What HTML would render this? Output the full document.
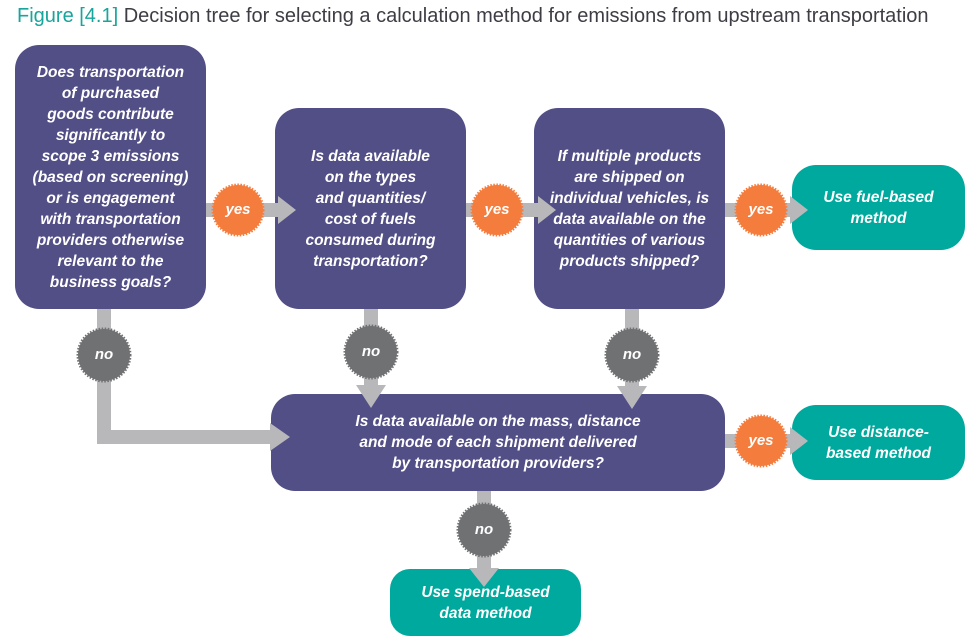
<!DOCTYPE html>
<html><head><style>
body{margin:0;width:978px;height:641px;background:#fff;position:relative;overflow:hidden;font-family:"Liberation Sans",sans-serif}
.t{position:absolute;left:17px;top:5px;font-size:20px;color:#3d3d45;white-space:nowrap}
.t span{color:#17a59c}
.b{position:absolute;background:#524e86;border-radius:24px;color:#fff;font-style:italic;font-weight:bold;font-size:15.5px;line-height:21px;text-align:center;display:flex;align-items:center;justify-content:center;box-sizing:border-box}
.g{background:#00a99d}
svg{position:absolute;left:0;top:0}
.l{position:absolute;color:#fff;font-style:italic;font-weight:bold;font-size:15px;text-align:center;width:60px}
</style></head><body>
<div class="t"><span>Figure [4.1]</span> Decision tree for selecting a calculation method for emissions from upstream transportation</div>
<div class="b" style="left:15px;top:45px;width:191px;height:264px">Does transportation<br>of purchased<br>goods contribute<br>significantly to<br>scope 3 emissions<br>(based on screening)<br>or is engagement<br>with transportation<br>providers otherwise<br>relevant to the<br>business goals?</div>
<div class="b" style="left:275px;top:108px;width:191px;height:201px">Is data available<br>on the types<br>and quantities/<br>cost of fuels<br>consumed during<br>transportation?</div>
<div class="b" style="left:534px;top:108px;width:191px;height:201px">If multiple products<br>are shipped on<br>individual vehicles, is<br>data available on the<br>quantities of various<br>products shipped?</div>
<div class="b g" style="left:792px;top:165px;width:173px;height:85px">Use fuel-based<br>method</div>
<div class="b" style="left:271px;top:394px;width:454px;height:97px">Is data available on the mass, distance<br>and mode of each shipment delivered<br>by transportation providers?</div>
<div class="b g" style="left:792px;top:405px;width:173px;height:75px">Use distance-<br>based method</div>
<div class="b g" style="left:390px;top:569px;width:191px;height:67px;border-radius:20px">Use spend-based<br>data method</div>
<svg width="978" height="641">
<g fill="#b8b8bb">
<rect x="206" y="203" width="72" height="14"/><polygon points="278,196 296,210 278,224"/>
<rect x="466" y="203" width="72" height="14"/><polygon points="538,196 556,210 538,224"/>
<rect x="725" y="203" width="65" height="14"/><polygon points="790,196 808,210 790,224"/>
<rect x="725" y="434" width="65" height="14"/><polygon points="790,427 808,441 790,455"/>
<rect x="97" y="309" width="14" height="135"/><rect x="97" y="430" width="175" height="14"/><polygon points="270,423 290,437 270,451"/>
<rect x="364" y="309" width="14" height="76"/><polygon points="356,385 371,408 386,385"/>
<rect x="625" y="309" width="14" height="78"/><polygon points="617,386 632,409 647,386"/>
<rect x="477" y="491" width="14" height="77"/><polygon points="469,568 484,587 499,568"/>
</g>
<g fill="#f47c3c" stroke="#f47c3c" stroke-width="3" stroke-dasharray="1.5 1.5">
<circle cx="238" cy="210" r="25"/><circle cx="497" cy="210" r="25"/><circle cx="761" cy="210" r="25"/><circle cx="761" cy="441" r="25"/>
</g>
<g fill="#707173" stroke="#707173" stroke-width="3" stroke-dasharray="1.5 1.5">
<circle cx="104" cy="355" r="26"/><circle cx="371" cy="352" r="26"/><circle cx="632" cy="355" r="26"/><circle cx="484" cy="530" r="26"/>
</g>
</svg>
<div class="l" style="left:208px;top:201px">yes</div>
<div class="l" style="left:467px;top:201px">yes</div>
<div class="l" style="left:731px;top:201px">yes</div>
<div class="l" style="left:731px;top:432px">yes</div>
<div class="l" style="left:74px;top:346px">no</div>
<div class="l" style="left:341px;top:343px">no</div>
<div class="l" style="left:602px;top:346px">no</div>
<div class="l" style="left:454px;top:521px">no</div>
</body></html>
